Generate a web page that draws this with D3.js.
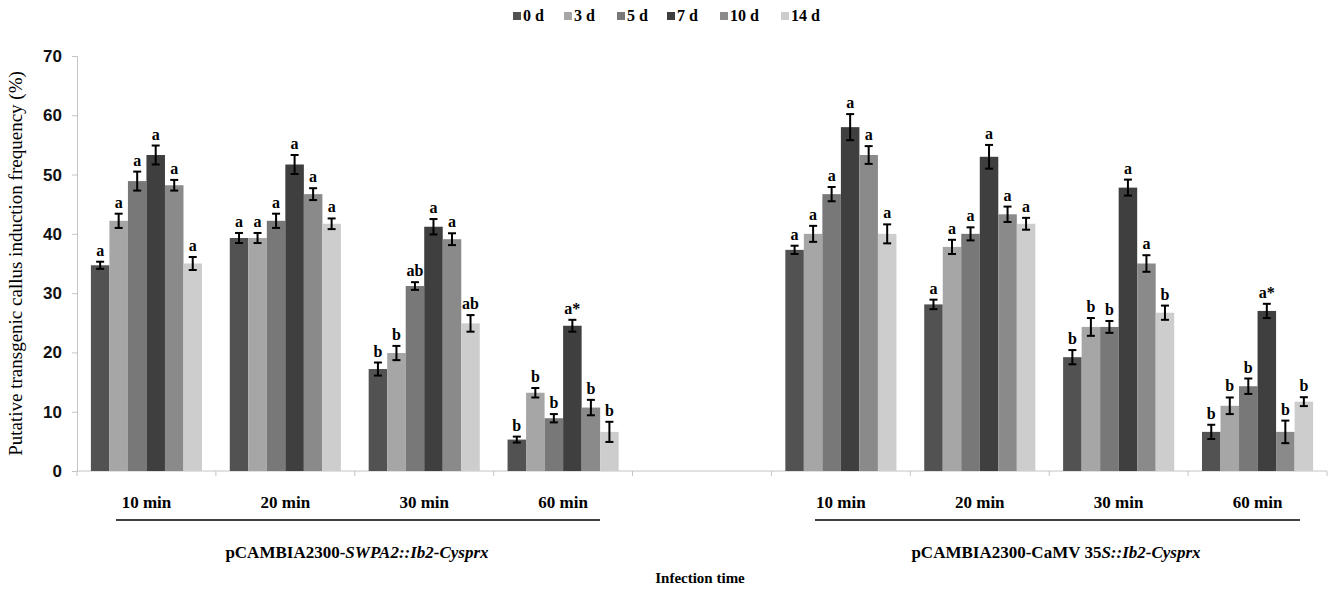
<!DOCTYPE html>
<html>
<head>
<meta charset="utf-8">
<script src="https://cdn.jsdelivr.net/npm/d3@7"></script>
<style>
  body { margin: 0; background: #fff; }
  svg { display: block; font-family: "Liberation Serif", "DejaVu Serif", serif; }
</style>
</head>
<body>
<div id="chart"></div>
<script>
// series (days after infection) and infection times
var days = ["0 d", "3 d", "5 d", "7 d", "10 d", "14 d"];
var times = ["10 min", "20 min", "30 min", "60 min"];
var constructs = ["SWPA2", "CaMV35S"];

// pCAMBIA2300-SWPA2::Ib2-Cysprx, one row per infection time
var swpaMean = [
    [34.7, 42.2, 48.9, 53.3, 48.2, 35.0],
    [39.3, 39.3, 42.2, 51.7, 46.7, 41.7],
    [17.2, 19.9, 31.2, 41.2, 39.1, 24.9],
    [5.3, 13.2, 8.9, 24.5, 10.7, 6.6]
];
var swpaErr = [
    [0.6, 1.2, 1.6, 1.6, 0.9, 1.1],
    [0.85, 0.85, 1.2, 1.6, 1.0, 0.9],
    [1.1, 1.2, 0.65, 1.3, 1.0, 1.4],
    [0.5, 0.8, 0.7, 1.0, 1.3, 1.7]
];
var swpaLetters = [
    ["a", "a", "a", "a", "a", "a"],
    ["a", "a", "a", "a", "a", "a"],
    ["b", "b", "ab", "a", "a", "ab"],
    ["b", "b", "b", "a*", "b", "b"]
];

// pCAMBIA2300-CaMV35S::Ib2-Cysprx
var camvMean = [
    [37.3, 40.0, 46.7, 58.0, 53.3, 40.0],
    [28.1, 37.8, 40.0, 53.0, 43.3, 41.7],
    [19.2, 24.3, 24.3, 47.8, 35.0, 26.7],
    [6.6, 11.0, 14.3, 27.0, 6.6, 11.7]
];
var camvErr = [
    [0.7, 1.35, 1.2, 2.2, 1.5, 1.6],
    [0.8, 1.2, 1.1, 2.0, 1.3, 1.0],
    [1.2, 1.5, 1.0, 1.35, 1.4, 1.2],
    [1.2, 1.4, 1.3, 1.2, 1.9, 0.75]
];
var camvLetters = [
    ["a", "a", "a", "a", "a", "a"],
    ["a", "a", "a", "a", "a", "a"],
    ["b", "b", "b", "a", "a", "b"],
    ["b", "b", "b", "a*", "b", "b"]
];

var yTicks = [0, 10, 20, 30, 40, 50, 60, 70];

var colors = ["#525252", "#a6a6a6", "#787878", "#3f3f3f", "#8a8a8a", "#cdcdcd"];

var W = 1332, H = 589;
var margin = {top: 56, right: 5, bottom: 118, left: 77};

var svg = d3.select("#chart").append("svg")
    .attr("width", W)
    .attr("height", H);

// 9 slots on the x axis: 4 times, an empty slot, 4 times
var slots = d3.range(9);
var slotIdx = function(c, t) { return c == 0 ? t : t + 5; };

var x0 = d3.scaleBand()
    .domain(slots)
    .range([margin.left, W - margin.right])
    .padding(0);

var x1 = d3.scaleBand()
    .domain(days)
    .range([x0.bandwidth() * 0.1, x0.bandwidth() * 0.9])
    .padding(0);

var y = d3.scaleLinear()
    .domain([0, 70])
    .range([H - margin.bottom, margin.top]);

// y axis
var yAxis = d3.axisLeft(y).tickValues(yTicks).tickSize(5).tickPadding(10);
var gy = svg.append("g")
    .attr("transform", "translate(" + margin.left + ",0)")
    .call(yAxis);
gy.selectAll("path, line").attr("stroke", "#c4c4c4");
gy.selectAll("text")
    .attr("fill", "#111")
    .style("font-size", "17px")
    .style("font-weight", "bold");

// x axis line with ticks at the slot boundaries
var gx = svg.append("g");
gx.append("line")
    .attr("x1", margin.left).attr("x2", W - margin.right)
    .attr("y1", y(0)).attr("y2", y(0))
    .attr("stroke", "#c4c4c4");
gx.selectAll(".tk")
    .data(d3.range(10))
    .enter().append("line")
    .attr("x1", function(i) { return margin.left + i * x0.step(); })
    .attr("x2", function(i) { return margin.left + i * x0.step(); })
    .attr("y1", y(0)).attr("y2", y(0) + 5)
    .attr("stroke", "#c4c4c4");

// flatten into rows for the bars
var rows = [];
[[swpaMean, swpaErr, swpaLetters], [camvMean, camvErr, camvLetters]].forEach(function(set, c) {
    times.forEach(function(t, ti) {
        days.forEach(function(d, di) {
            rows.push({slot: slotIdx(c, ti), day: d, di: di,
                       v: set[0][ti][di], e: set[1][ti][di], l: set[2][ti][di]});
        });
    });
});

var bx = function(r) { return x0(r.slot) + x1(r.day); };

svg.append("g").selectAll("rect")
    .data(rows)
    .enter().append("rect")
    .attr("x", bx)
    .attr("y", function(r) { return y(r.v); })
    .attr("width", x1.bandwidth())
    .attr("height", function(r) { return y(0) - y(r.v); })
    .attr("fill", function(r) { return colors[r.di]; });

// error bars
var eb = svg.append("g").attr("stroke", "#000").attr("stroke-width", 2);
rows.forEach(function(r) {
    var cx = bx(r) + x1.bandwidth() / 2;
    eb.append("line").attr("x1", cx).attr("x2", cx)
        .attr("y1", y(r.v + r.e)).attr("y2", y(r.v - r.e));
    [r.v + r.e, r.v - r.e].forEach(function(v) {
        eb.append("line").attr("x1", cx - 4).attr("x2", cx + 4)
            .attr("y1", y(v)).attr("y2", y(v));
    });
});

// significance letters
svg.append("g").selectAll("text")
    .data(rows)
    .enter().append("text")
    .attr("x", function(r) { return bx(r) + x1.bandwidth() / 2; })
    .attr("y", function(r) { return y(r.v + r.e) - 6; })
    .attr("text-anchor", "middle")
    .style("font-size", "16px")
    .style("font-weight", "bold")
    .text(function(r) { return r.l; });

// infection time labels
constructs.forEach(function(c, ci) {
    times.forEach(function(t, ti) {
        svg.append("text")
            .attr("x", x0(slotIdx(ci, ti)) + x0.bandwidth() / 2)
            .attr("y", 508)
            .attr("text-anchor", "middle")
            .style("font-size", "17px")
            .style("font-weight", "bold")
            .text(t);
    });
});

// bracket lines under the time labels
svg.append("line").attr("x1", 116).attr("x2", 600).attr("y1", 520).attr("y2", 520)
    .attr("stroke", "#000").attr("stroke-width", 1.5);
svg.append("line").attr("x1", 815).attr("x2", 1300).attr("y1", 520).attr("y2", 520)
    .attr("stroke", "#000").attr("stroke-width", 1.5);

// construct names
var t1 = svg.append("text").attr("x", 357).attr("y", 558)
    .attr("text-anchor", "middle").style("font-size", "17px").style("font-weight", "bold");
t1.append("tspan").text("pCAMBIA2300-");
t1.append("tspan").style("font-style", "italic").text("SWPA2::Ib2-Cysprx");

var t2 = svg.append("text").attr("x", 1056).attr("y", 558)
    .attr("text-anchor", "middle").style("font-size", "17px").style("font-weight", "bold");
t2.append("tspan").text("pCAMBIA2300-CaMV 35");
t2.append("tspan").style("font-style", "italic").text("S::Ib2-Cysprx");

// x title
svg.append("text").attr("x", 700).attr("y", 583)
    .attr("text-anchor", "middle").style("font-size", "15px").style("font-weight", "bold")
    .text("Infection time");

// y title
svg.append("text")
    .attr("transform", "translate(22," + ((y(0) + y(70)) / 2) + ") rotate(-90)")
    .attr("text-anchor", "middle")
    .style("font-size", "19px")
    .text("Putative transgenic callus induction frequency (%)");

// legend
var lx = [513, 564, 617, 667, 720, 781];
var lg = svg.append("g");
days.forEach(function(d, i) {
    lg.append("rect").attr("x", lx[i]).attr("y", 12).attr("width", 8).attr("height", 8)
        .attr("fill", colors[i]);
    lg.append("text").attr("x", lx[i] + 10).attr("y", 21)
        .style("font-size", "16px").style("font-weight", "bold")
        .text(d);
});
</script>
</body>
</html>
